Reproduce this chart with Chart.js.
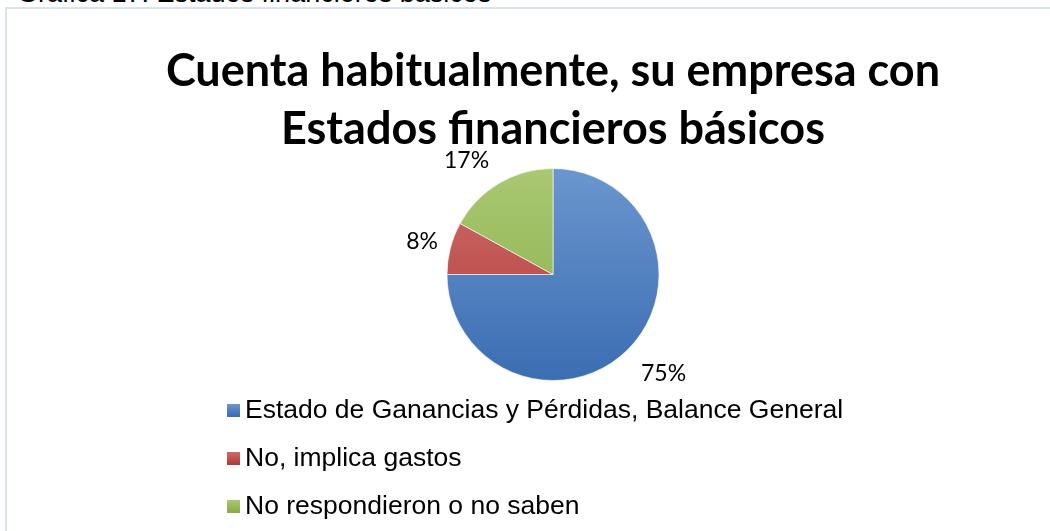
<!DOCTYPE html>
<html>
<head>
<meta charset="utf-8">
<script src="https://cdn.jsdelivr.net/npm/chart.js@4.4.1/dist/chart.umd.min.js"></script>
<style>
  html, body { margin: 0; padding: 0; background: #fff; overflow: hidden; width: 1050px; height: 531px; }
  #caption { position: absolute; left: 17px; top: -22.5px; font-family: "Liberation Sans", Arial, sans-serif; font-size: 27px; line-height: 31px; color: #000; white-space: nowrap; }
  #frame { position: absolute; left: 5px; top: 7px; width: 1100px; height: 600px; border: 2px solid #d9e3f2; box-sizing: border-box; background: transparent; }
  #wrap { position: absolute; left: 0; top: 0; width: 1050px; height: 531px; }
</style>
</head>
<body>
<div id="caption">Gráfica 17: Estados financieros básicos</div>
<div id="frame"></div>
<div id="wrap"><canvas id="c" width="1050" height="531"></canvas></div>
<script>
const titleLines = ['Cuenta habitualmente, su empresa con', 'Estados financieros básicos'];
const categories = ['Estado de Ganancias y Pérdidas, Balance General', 'No, implica gastos', 'No respondieron o no saben'];
const values = [75, 8, 17];
const percentLabels = ['75%', '8%', '17%'];
const colorsTop = ['#6b96ce', '#ce6c69', '#a9c872'];
const colorsBottom = ['#3b6db2', '#b03b39', '#8aad48'];
const colorsSolid = ['#4f81bd', '#c0504d', '#9bbb59'];
// label placement nudges (style only)
const labelNudgeX = [8, 4, -14];
const labelNudgeY = [-4, 2, 8.5];

function grad(context) {
  const chart = context.chart;
  const a = chart.chartArea;
  const i = context.dataIndex;
  if (!a) return colorsSolid[i];
  const g = chart.ctx.createLinearGradient(0, a.top, 0, a.bottom);
  g.addColorStop(0, colorsTop[i]);
  g.addColorStop(1, colorsBottom[i]);
  return g;
}

const labelPlugin = {
  id: 'pctLabels',
  afterDatasetsDraw(chart) {
    const ctx = chart.ctx;
    const meta = chart.getDatasetMeta(0);
    ctx.save();
    ctx.font = '23px Lato, "Open Sans", sans-serif';
    ctx.fillStyle = '#000';
    ctx.textAlign = 'center';
    ctx.textBaseline = 'middle';
    meta.data.forEach((arc, i) => {
      const p = arc.getProps(['x', 'y', 'startAngle', 'endAngle', 'outerRadius'], true);
      const mid = (p.startAngle + p.endAngle) / 2;
      const c = Math.cos(mid), s = Math.sin(mid);
      const w = ctx.measureText(percentLabels[i]).width;
      const h = 23;
      const d = p.outerRadius + 15 + Math.abs(c) * w / 2 + Math.abs(s) * h / 2;
      ctx.fillText(percentLabels[i], p.x + c * d + labelNudgeX[i], p.y + s * d + labelNudgeY[i]);
    });
    ctx.restore();
  }
};

const legendPlugin = {
  id: 'stackLegend',
  afterDraw(chart) {
    const ctx = chart.ctx;
    const rows = [410, 458, 506];
    ctx.save();
    ctx.font = '26.5px "Liberation Sans", Arial, sans-serif';
    ctx.textAlign = 'left';
    ctx.textBaseline = 'middle';
    categories.forEach((name, i) => {
      const y = rows[i];
      const g = ctx.createLinearGradient(0, y - 6, 0, y + 6);
      g.addColorStop(0, colorsTop[i]);
      g.addColorStop(1, colorsBottom[i]);
      ctx.fillStyle = g;
      ctx.fillRect(227, y - 6, 13, 13);
      ctx.fillStyle = '#000';
      ctx.fillText(name, 245, y + 1);
    });
    ctx.restore();
  }
};

new Chart(document.getElementById('c'), {
  type: 'pie',
  data: {
    labels: categories,
    datasets: [{
      data: values,
      backgroundColor: grad,
      borderColor: 'rgba(255,255,255,0.6)',
      borderWidth: 1
    }]
  },
  options: {
    responsive: false,
    animation: false,
    layout: { padding: { left: 56, right: 0, top: 0, bottom: 150 } },
    plugins: {
      legend: { display: false },
      tooltip: { enabled: false },
      title: {
        display: true,
        text: titleLines,
        color: '#000',
        font: { family: 'Lato, "Open Sans", sans-serif', size: 45, weight: 'bold', lineHeight: 1.289 },
        padding: { top: 42, bottom: 10 }
      }
    }
  },
  plugins: [labelPlugin, legendPlugin]
});
</script>
</body>
</html>
